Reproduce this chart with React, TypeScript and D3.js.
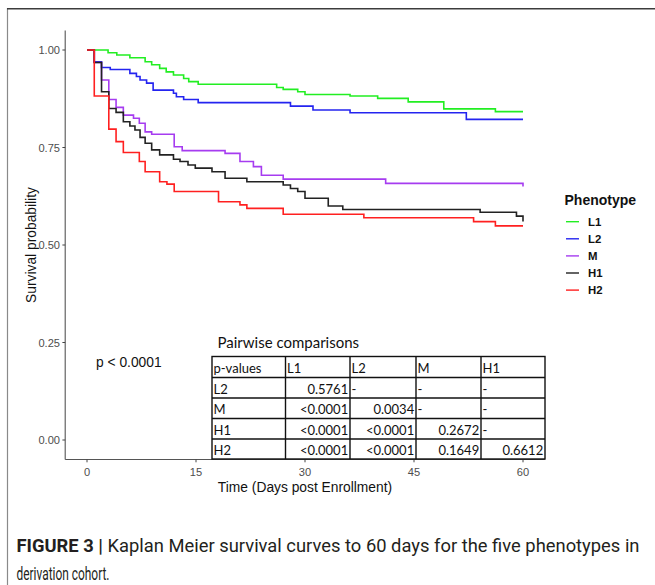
import { useMemo } from 'react';
import * as d3 from 'd3';

// Kaplan-Meier step points (days, survival)
const l1Time = [0, 2.9, 4.1, 5.9, 8.0, 8.9, 10.0, 10.9, 11.9, 13.3, 14.0, 15.3, 26.1, 27.0, 29.0, 30.0, 36.2, 40.0, 44.2, 49.1, 56.2];
const l1Surv = [1, 0.993, 0.987, 0.98, 0.97, 0.962, 0.953, 0.944, 0.936, 0.927, 0.919, 0.912, 0.904, 0.899, 0.893, 0.886, 0.882, 0.876, 0.867, 0.849, 0.842];

const l2Time = [0, 1, 2, 3.2, 5.9, 6.8, 7.3, 8.2, 9.1, 11.9, 12.3, 13.3, 15.3, 28.0, 31.1, 36.2, 52.2];
const l2Surv = [1, 0.97, 0.955, 0.95, 0.94, 0.932, 0.923, 0.915, 0.897, 0.889, 0.88, 0.873, 0.865, 0.856, 0.846, 0.839, 0.822];

const mTime = [0, 1, 2, 3, 4, 5, 6.4, 7.2, 8.0, 8.9, 12.0, 13.1, 19.0, 21.05, 22.9, 24.0, 27.0, 41.1, 60];
const mSurv = [1, 0.968, 0.923, 0.873, 0.853, 0.833, 0.825, 0.812, 0.79, 0.784, 0.752, 0.742, 0.735, 0.714, 0.701, 0.679, 0.669, 0.658, 0.65];

const h1Time = [0, 1, 2, 3, 4, 5, 5.9, 6.6, 7.3, 8.0, 8.9, 10.0, 11.9, 12.8, 13.9, 14.9, 17.2, 19.0, 22.0, 27.0, 28.0, 29.0, 30.0, 33.2, 35.2, 54.1, 59.1, 60];
const h1Surv = [1, 0.968, 0.893, 0.85, 0.84, 0.816, 0.805, 0.795, 0.776, 0.761, 0.744, 0.731, 0.72, 0.714, 0.705, 0.697, 0.688, 0.671, 0.662, 0.654, 0.645, 0.637, 0.62, 0.6, 0.591, 0.584, 0.574, 0.56];

const h2Time = [0, 1, 3, 4, 5, 7.2, 8.0, 10.0, 11.0, 12.0, 18.1, 21.05, 22.0, 27.0, 38.1, 53.2, 56.2];
const h2Surv = [1, 0.882, 0.797, 0.765, 0.737, 0.714, 0.688, 0.662, 0.656, 0.637, 0.611, 0.603, 0.594, 0.579, 0.57, 0.56, 0.549];

const phenotypes = ['L1', 'L2', 'M', 'H1', 'H2'];
const colors = ['#22ee22', '#2424f0', '#a63cf0', '#222222', '#ff2020'];
const times = [l1Time, l2Time, mTime, h1Time, h2Time];
const survs = [l1Surv, l2Surv, mSurv, h1Surv, h2Surv];

const xTicks = [0, 15, 30, 45, 60];
const yTicks = [0, 0.25, 0.5, 0.75, 1];

const tableHeader = ['p-values', 'L1', 'L2', 'M', 'H1'];
const tableRows = [
  ['L2', '0.5761', '-', '-', '-'],
  ['M', '<0.0001', '0.0034', '-', '-'],
  ['H1', '<0.0001', '<0.0001', '0.2672', '-'],
  ['H2', '<0.0001', '<0.0001', '0.1649', '0.6612'],
];

const W = 655;
const H = 585;
const END_DAY = 60;

export default function App(): React.ReactNode {
  const x = d3.scaleLinear().domain([-3, 63]).range([65.2, 544.8]);
  const y = d3.scaleLinear().domain([-0.05, 1.05]).range([459.5, 30.5]);

  const paths = useMemo(() => {
    const line = d3
      .line<[number, number]>()
      .curve(d3.curveStepAfter)
      .x((d) => x(d[0]))
      .y((d) => y(d[1]));
    return times.map((ts, i) => {
      const pts: [number, number][] = ts.map((t, j) => [t, survs[i][j]]);
      pts.push([END_DAY, survs[i][survs[i].length - 1]]);
      return line(pts) ?? '';
    });
  }, []);

  const colEdges = [212, 285.5, 350, 416, 481, 545];
  const rowEdges = [356.5, 377.5, 398, 418.5, 439, 459];
  const allRows = [tableHeader, ...tableRows];
  const tableFont = 'Lato, "Open Sans", sans-serif';

  return (
    <svg
      width={W}
      height={H}
      viewBox={`0 0 ${W} ${H}`}
      style={{ position: 'absolute', left: 0, top: 0, background: '#fff' }}
      fontFamily='"Liberation Sans", Arial, sans-serif'
    >
      {/* figure frame */}
      <line x1={7.5} x2={7.5} y1={8} y2={H} stroke="#8a8a8a" strokeWidth={1.2} />
      <line x1={7} x2={W} y1={8.7} y2={8.7} stroke="#3c3c3c" strokeWidth={1.6} />

      {/* axes */}
      <line x1={65.2} x2={65.2} y1={30.5} y2={459.5} stroke="#555" strokeWidth={1.1} />
      <line x1={65.2} x2={544.8} y1={459.5} y2={459.5} stroke="#555" strokeWidth={1.1} />
      {yTicks.map((t) => (
        <g key={t}>
          <line x1={62.4} x2={65.2} y1={y(t)} y2={y(t)} stroke="#444" />
          <text x={60} y={y(t) + 4} textAnchor="end" fontSize={11.1} fill="#4d4d4d">
            {t.toFixed(2)}
          </text>
        </g>
      ))}
      {xTicks.map((t) => (
        <g key={t}>
          <line x1={x(t)} x2={x(t)} y1={459.5} y2={462.3} stroke="#444" />
          <text x={x(t)} y={476} textAnchor="middle" fontSize={11.1} fill="#4d4d4d">
            {t}
          </text>
        </g>
      ))}
      <text x={x(30)} y={492} textAnchor="middle" fontSize={13.8} fill="#111">
        Time (Days post Enrollment)
      </text>
      <text
        transform={`translate(35.5,${y(0.5)}) rotate(-90)`}
        textAnchor="middle"
        fontSize={13.8}
        fill="#111"
      >
        Survival probability
      </text>

      {/* survival curves */}
      {paths.map((d, i) => (
        <path key={phenotypes[i]} d={d} fill="none" stroke={colors[i]} strokeWidth={1.6} />
      ))}

      {/* legend */}
      <text x={564.5} y={205} fontSize={14} fontWeight="bold" fill="#111">
        Phenotype
      </text>
      {phenotypes.map((p, i) => (
        <g key={p}>
          <line
            x1={566}
            x2={579}
            y1={221.7 + i * 17.1}
            y2={221.7 + i * 17.1}
            stroke={colors[i]}
            strokeWidth={1.4}
          />
          <text x={588} y={221.7 + i * 17.1 + 4} fontSize={11.4} fontWeight="bold" fill="#111">
            {p}
          </text>
        </g>
      ))}

      <text x={96} y={367} fontSize={13.8} fill="#111">
        p &lt; 0.0001
      </text>

      {/* pairwise comparisons table */}
      <text x={217.5} y={348} fontSize={15} fill="#111" fontFamily={tableFont}>
        Pairwise comparisons
      </text>
      <rect
        x={colEdges[0]}
        y={rowEdges[0]}
        width={colEdges[5] - colEdges[0]}
        height={rowEdges[5] - rowEdges[0]}
        fill="#fff"
        stroke="#111"
        strokeWidth={1.4}
      />
      {colEdges.slice(1, -1).map((cx) => (
        <line key={cx} x1={cx} x2={cx} y1={rowEdges[0]} y2={rowEdges[5]} stroke="#111" strokeWidth={1.4} />
      ))}
      {rowEdges.slice(1, -1).map((ry) => (
        <line key={ry} x1={colEdges[0]} x2={colEdges[5]} y1={ry} y2={ry} stroke="#111" strokeWidth={1.4} />
      ))}
      {allRows.map((row, r) =>
        row.map((cell, c) => {
          const left = r === 0 || c === 0 || cell === '-';
          return (
            <text
              key={`${r}-${c}`}
              x={left ? colEdges[c] + 1.5 : colEdges[c + 1] - 1.8}
              y={rowEdges[r + 1] - 4.5}
              textAnchor={left ? 'start' : 'end'}
              fontSize={13}
              fill="#111"
              fontFamily={tableFont}
            >
              {cell}
            </text>
          );
        }),
      )}

      {/* caption */}
      <text
        x={16.5}
        y={552}
        fontSize={18.5}
        fill="#231f20"
        fontFamily='"Liberation Sans Narrow", Roboto, sans-serif'
        textLength={623}
        lengthAdjust="spacingAndGlyphs"
      >
        <tspan fontWeight="bold">FIGURE 3 |</tspan> Kaplan Meier survival curves to 60 days for the five phenotypes in
      </text>
      <text
        x={16.5}
        y={580}
        fontSize={18.5}
        fill="#231f20"
        fontFamily='"Liberation Sans Narrow", Roboto, sans-serif'
        textLength={93}
        lengthAdjust="spacingAndGlyphs"
      >
        derivation cohort.
      </text>
    </svg>
  );
}
